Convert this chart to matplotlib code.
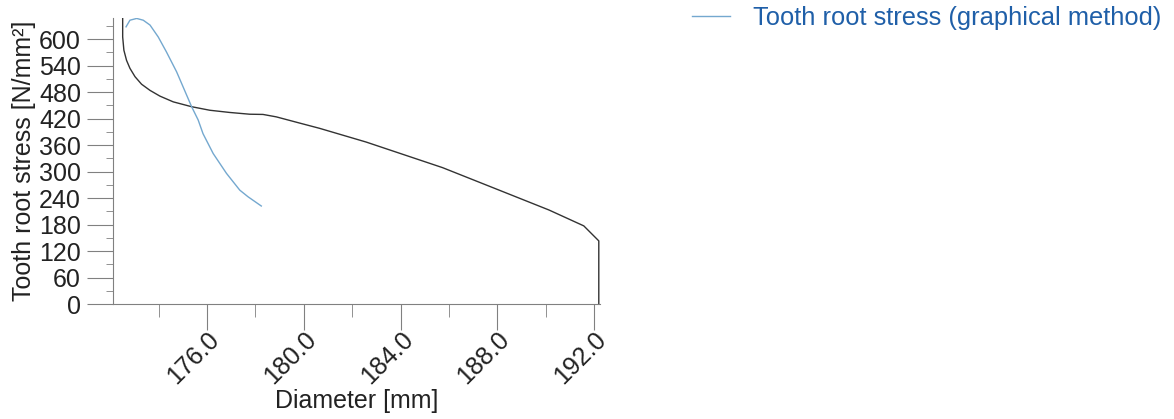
import matplotlib.pyplot as plt
from matplotlib.ticker import MultipleLocator, FormatStrFormatter

plt.rcParams['font.family'] = ['Liberation Sans', 'DejaVu Sans']

# tooth root stress along the flank (black curve)
diameter = [172.51, 172.51, 172.56, 172.67, 172.81, 173.02, 173.29, 173.64, 174.05,
            174.60, 175.36, 176.11, 176.93, 177.76, 178.31, 178.86, 179.82, 180.65,
            182.57, 185.73, 188.07, 190.13, 191.57, 192.19, 192.19]
stress = [647, 605, 575, 552, 534, 515, 498, 484, 471,
          458, 447, 439, 434, 430, 429.5, 424, 410, 398,
          367, 309, 258, 213, 177, 143, 0]

# tooth root stress, graphical method (blue curve)
diameter_graph = [172.65, 172.81, 173.09, 173.36, 173.64, 173.98, 174.32, 174.74,
                  175.36, 175.63, 175.83, 176.25, 176.80, 177.35, 177.69, 178.24]
stress_graph = [628, 643, 647, 643, 632, 605, 571, 526,
                447, 417, 386, 341, 296, 258, 243, 222]

legend_label = 'Tooth root stress (graphical method)'

fig = plt.figure(figsize=(11.74, 4.19), dpi=100)
ax = fig.add_axes([113 / 1174, 1 - 304 / 419, 487 / 1174, 286 / 419])

ax.plot(diameter, stress, color='#333333', lw=1.0)
line, = ax.plot(diameter_graph, stress_graph, color='#74a8cf', lw=1.0)

ax.set_xlim(172.11, 192.24)
ax.set_ylim(0, 648)

ax.xaxis.set_major_locator(MultipleLocator(4))
ax.xaxis.set_minor_locator(MultipleLocator(2))
ax.xaxis.set_major_formatter(FormatStrFormatter('%.1f'))
ax.yaxis.set_major_locator(MultipleLocator(60))
ax.yaxis.set_minor_locator(MultipleLocator(30))

for s in ['top', 'right']:
    ax.spines[s].set_visible(False)
for s in ['left', 'bottom']:
    ax.spines[s].set_color('#808080')

ax.tick_params(axis='both', which='major', length=19, color='#808080',
               labelsize=18, labelcolor='#222222')
ax.tick_params(axis='both', which='minor', length=9, color='#808080')
ax.tick_params(axis='x', which='major', pad=-2)
ax.tick_params(axis='y', which='major', pad=4)
ax.tick_params(axis='y', which='minor', length=5)

for lbl in ax.get_xticklabels():
    lbl.set_rotation(45)
    lbl.set_ha('right')
    lbl.set_rotation_mode('anchor')

ax.set_xlabel('Diameter [mm]', fontsize=18, color='#222222', labelpad=0)
ax.set_ylabel('Tooth root stress [N/mm²]', fontsize=18, color='#222222', labelpad=2)

fig.legend([line], [legend_label], loc='upper left',
           bbox_to_anchor=(669 / 1174, 1.04), frameon=False, fontsize=18.4,
           labelcolor='#1f5fa8', handlelength=1.5, handletextpad=0.9)

fig.savefig('out.png', dpi=100)
